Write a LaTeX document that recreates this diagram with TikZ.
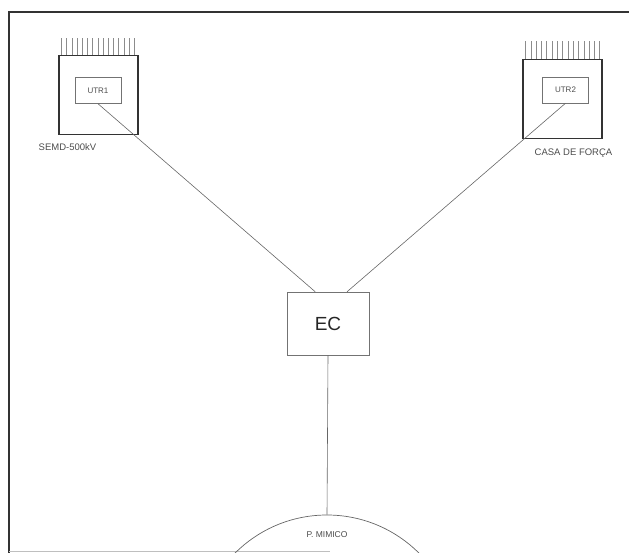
\documentclass[tikz,border=0pt]{standalone}
\usepackage{fontspec}
\setmainfont{Liberation Sans}
\usepackage{tikz}
\usetikzlibrary{positioning,calc}
\tikzset{
  station/.style ={rectangle, draw=black!80, line width=1.1pt, minimum width=79pt, minimum height=79pt},
  utr/.style     ={rectangle, draw=black!55, line width=0.5pt, minimum width=46pt, minimum height=26pt,
                   font=\fontsize{8}{9}\selectfont, text=black!70},
  central/.style ={rectangle, draw=black!55, line width=0.6pt, minimum width=82pt, minimum height=63pt,
                   font=\fontsize{19}{21}\selectfont, text=black!85},
  tag/.style     ={font=\fontsize{9.5}{10}\selectfont, text=black!70, inner sep=1pt},
  ln/.style      ={draw=black!60, line width=0.6pt},
}

\begin{document}
\begin{tikzpicture}[x=1pt,y=-1pt]
  \useasboundingbox (0,0) rectangle (629,553);
  \clip (0,0) rectangle (629,553);
  % frame
  \draw[line width=1.6pt, black!80] (9,553) -- (9,12) -- (629,12);
  \draw[line width=0.8pt, black!25] (9,551) -- (330,551);
  % stations
  \node[station] (st1) at (98.5,95) {};
  \node[station] (st2) at (562.5,99) {};
  \node[utr] (utr1) at (98,90.5) {UTR1};
  \node[utr] (utr2) at (565.5,90) {UTR2};
  \node[tag,below=7pt of st1.south, xshift=-31pt] (l1) {SEMD-500kV};
  \node[tag,below=9pt of st2.south, xshift=11pt] (l2) {CASA DE FORÇA};
  \foreach \i in {0,...,14}{
    \draw[ln, black!45, line width=0.5pt] ($(st1.north west)+(3+\i*5.2,0)$) -- ++(0,-17);
    \draw[ln, black!45, line width=0.5pt] ($(st2.north west)+(3+\i*5.3,0)$) -- ++(0,-18);
  }
  % central + panel
  \node[central] (ec) at (328,323.5) {EC};
  \node[circle, draw=black!60, line width=0.7pt, minimum size=260pt, inner sep=0pt] (pm) at (327,645) {};
  \node[tag, font=\fontsize{8.5}{9}\selectfont] (pml) at (327,535) {P. MIMICO};
  % links
  \draw[ln] (utr1.south) -- (ec.112);
  \draw[ln] (utr2.south) -- (ec.59);
  \draw[ln] (ec.south) -- (pm.north);
\end{tikzpicture}
\end{document}
